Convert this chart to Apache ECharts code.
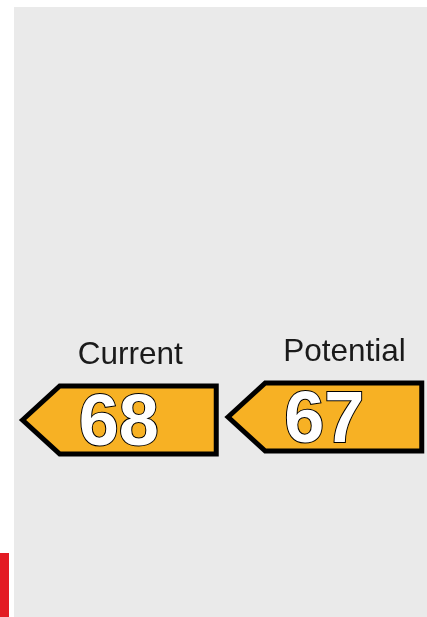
<!DOCTYPE html>
<html>
<head>
    <meta charset="utf-8">
    <title>ECharts</title>
    <script src="https://cdn.jsdelivr.net/npm/echarts@6/dist/echarts.min.js"></script>
    <style>
        body { margin: 0; background: #fff; }
    </style>
</head>
<body>
    <div id="main" style="width: 427px;height:617px;"></div>
    <script type="text/javascript">
        var myChart = echarts.init(document.getElementById('main'));

        // data
        var categories = ['Current', 'Potential'];
        var ratings = [68, 67];

        // arrow pointing left, centred on the data point
        function renderArrow(params, api) {
            var c = api.coord([api.value(0), api.value(1)]);
            var lw = 5;
            var w = 200, h = 73, nose = 41;
            var left = c[0] - w / 2 + 3.8;
            var right = c[0] + w / 2 - lw / 2;
            var top = c[1] - h / 2 + lw / 2;
            var bottom = c[1] + h / 2 - lw / 2;
            var tipX = c[0] - w / 2;
            return {
                type: 'group',
                children: [{
                    type: 'polygon',
                    shape: {
                        points: [[left, c[1]], [tipX + nose, top], [right, top], [right, bottom], [tipX + nose, bottom]]
                    },
                    style: { fill: '#f7b124', stroke: '#000', lineWidth: lw, lineJoin: 'miter' }
                }, {
                    type: 'text',
                    x: c[0],
                    y: c[1] + 5,
                    style: {
                        text: String(api.value(1)),
                        fill: '#fff',
                        stroke: '#000',
                        lineWidth: 2,
                        font: 'bold 72px "Liberation Sans", Arial, sans-serif',
                        align: 'center',
                        verticalAlign: 'middle'
                    }
                }, {
                    type: 'text',
                    x: tipX + 59,
                    y: c[1] - 65,
                    style: {
                        text: categories[params.dataIndex],
                        fill: '#1a1a1a',
                        font: '31.5px "Liberation Sans", Arial, sans-serif',
                        align: 'left',
                        verticalAlign: 'middle'
                    }
                }]
            };
        }

        option = {
            animation: false,
            graphic: [{
                type: 'rect',
                z: -10,
                shape: { x: 14, y: 7, width: 413, height: 610 },
                style: { fill: '#eaeaea' }
            }, {
                type: 'rect',
                z: -10,
                shape: { x: 0, y: 553, width: 9, height: 64 },
                style: { fill: '#e31b23' }
            }],
            grid: { left: 16, width: 414, top: 216, height: 300 },
            xAxis: {
                type: 'category',
                data: categories,
                show: false
            },
            yAxis: {
                type: 'value',
                min: 0,
                max: 100,
                inverse: true,
                show: false
            },
            series: [{
                type: 'custom',
                renderItem: renderArrow,
                clip: false,
                data: categories.map(function (c, i) { return [i, ratings[i]]; })
            }]
        };

        myChart.setOption(option);
    </script>
</body>
</html>
